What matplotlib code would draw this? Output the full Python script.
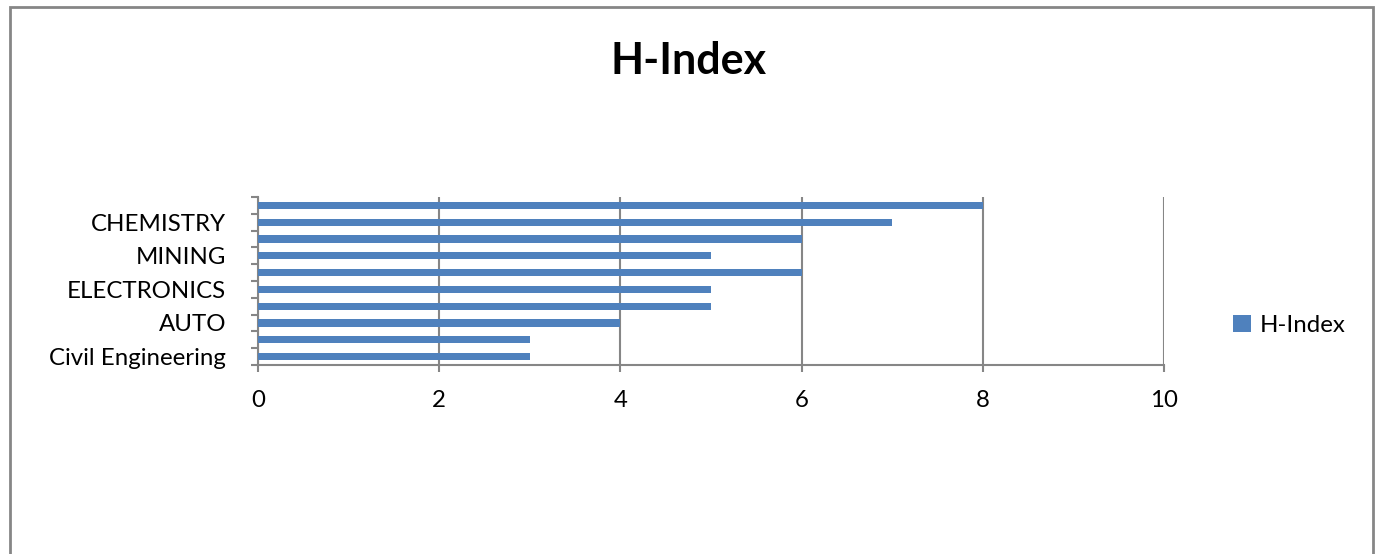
import numpy as np
import matplotlib.pyplot as plt
from matplotlib.patches import Rectangle

plt.rcParams['font.family'] = ['Lato', 'DejaVu Sans']

# departments from bottom to top; only every other one carries a label
departments = ["Civil Engineering", "", "AUTO", "", "ELECTRONICS", "",
               "MINING", "", "CHEMISTRY", ""]
h_index = [3, 3, 4, 5, 5, 6, 5, 6, 7, 8]
x_ticks = [0, 2, 4, 6, 8, 10]

bar_color = "#4F81BD"
grey = "#868686"
fs = 17.3

fig = plt.figure(figsize=(13.78, 5.54), dpi=100)
ax = fig.add_axes([0.1872, 0.3412, 0.6575, 0.3032])

pos = np.arange(len(departments))
ax.barh(pos, h_index, height=0.42, color=bar_color, label="H-Index", zorder=3)

ax.set_xlim(0, 10)
ax.set_ylim(-0.5, len(departments) - 0.5)
ax.set_xticks(x_ticks)
ax.set_xticklabels([str(t) for t in x_ticks], fontsize=fs)
ax.xaxis.grid(True, color=grey, linewidth=1.5, zorder=0)

# category boundaries get tick marks, the labels sit at bar centres
ax.set_yticks(np.arange(-0.5, len(departments), 1.0))
ax.set_yticklabels([])
ax.set_yticks(pos, minor=True)
ax.set_yticklabels(departments, minor=True, fontsize=fs)
ax.tick_params(axis="y", which="minor", length=0, pad=23)
ax.tick_params(axis="y", which="major", length=5, color=grey, width=1.5)
ax.tick_params(axis="x", length=5, color=grey, width=1.5, pad=13)

for side in ("top", "right"):
    ax.spines[side].set_visible(False)
for side in ("left", "bottom"):
    ax.spines[side].set_color(grey)
    ax.spines[side].set_linewidth(1.5)

fig.text(0.5, 0.89, "H-Index", ha="center", va="center",
         fontsize=31, fontweight="bold")

fig.legend(loc="center left", bbox_to_anchor=(0.879, 0.413), frameon=False,
           fontsize=fs, handlelength=0.75, handleheight=0.75,
           handletextpad=0.35)

# outer chart frame, open at the bottom
fig.patches.append(Rectangle((10 / 1378, -0.1), 1363 / 1378, 1.1 - 7 / 554,
                             transform=fig.transFigure, fill=False,
                             edgecolor=grey, linewidth=2))

fig.savefig("out.png", dpi=100)
